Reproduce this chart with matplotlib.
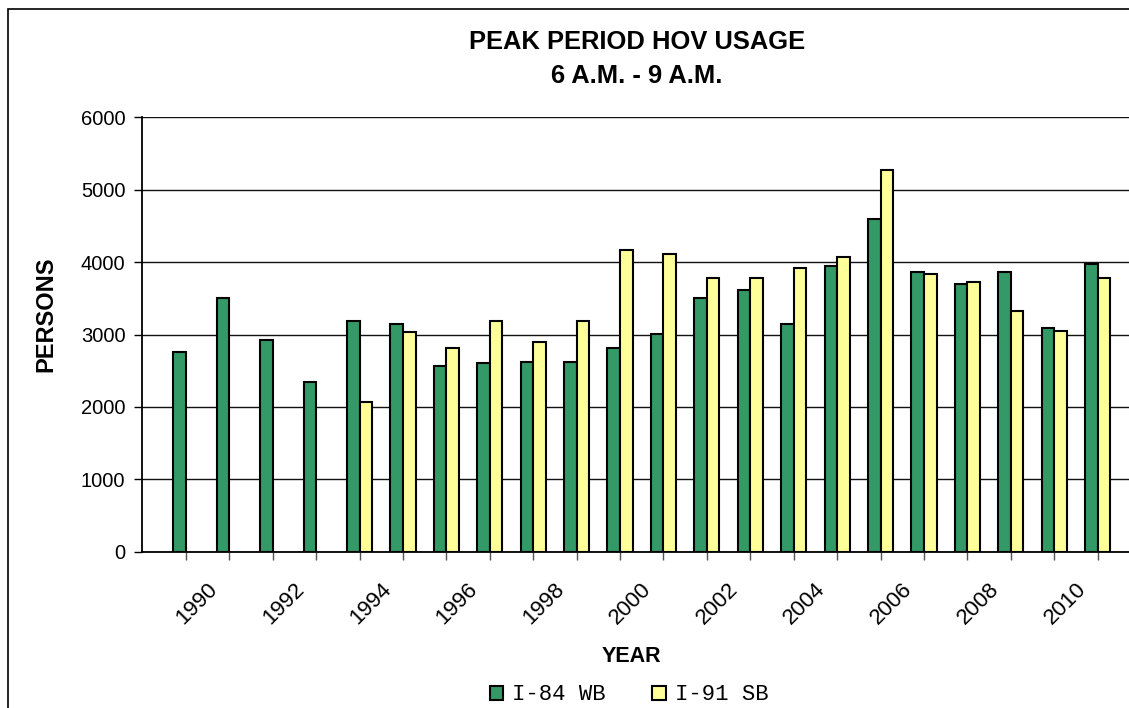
import matplotlib
matplotlib.use("Agg")
import matplotlib.pyplot as plt
from matplotlib.patches import Patch, Rectangle
import matplotlib.transforms as mtransforms
import numpy as np

years = list(range(1989, 2011))
i84_wb = [2760, 3510, 2930, 2350, 3180, 3150, 2570, 2600, 2620, 2620, 2820,
          3010, 3510, 3620, 3150, 3950, 4590, 3870, 3700, 3870, 3095, 3980]
i91_sb = [0, 0, 0, 0, 2070, 3040, 2820, 3180, 2900, 3180, 4170,
          4115, 3785, 3785, 3920, 4065, 5275, 3840, 3730, 3320, 3045, 3785]
tick_labels = [str(y) if y % 2 == 0 else "" for y in years]

W, H = 1129, 708
fig = plt.figure(figsize=(W / 100, H / 100), dpi=100)
fig.patch.set_facecolor("white")

# outer chart border (cropped on right and bottom)
fig.add_artist(Rectangle((8 / W, -0.1), 1.2, 1 - 9.5 / H + 0.1, transform=fig.transFigure,
                         fill=False, edgecolor="black", linewidth=1.2))

left, right = 142 / W, 1.0
bottom, top = 1 - 551.7 / H, 1 - 117.3 / H
ax = fig.add_axes([left, bottom, right - left, top - bottom])

x = np.arange(len(years))
bw = 0.29
green = "#339966"
yellow = "#FFFF99"
ax.bar(x - bw / 2, i84_wb, width=bw, color=green, edgecolor="black", linewidth=1.5, zorder=3)
mask = np.array(i91_sb) > 0
ax.bar(x[mask] + bw / 2, np.array(i91_sb)[mask], width=bw, color=yellow,
       edgecolor="black", linewidth=1.5, zorder=3)

ax.set_ylim(0, 6000)
ax.set_yticks(range(0, 6001, 1000))
ax.set_xlim(-1.01, (W - 186) / 43.41)
ax.set_xticks(x)
ax.set_xticklabels(tick_labels)

ax.yaxis.grid(True, color="#111111", linewidth=1.0, zorder=0)
ax.set_axisbelow(True)
for s in ["top", "right"]:
    ax.spines[s].set_visible(False)
ax.spines["left"].set_linewidth(1.3)
ax.spines["bottom"].set_linewidth(1.3)
ax.tick_params(axis="y", direction="out", length=6, width=1, pad=6, labelsize=14.5)
ax.tick_params(axis="x", direction="out", length=6, width=1, pad=19, color="#555555",
               labelsize=16)

offset = mtransforms.ScaledTranslation(-0.15, 0, fig.dpi_scale_trans)
for lab in ax.get_xticklabels():
    lab.set_rotation(45)
    lab.set_ha("right")
    lab.set_va("center")
    lab.set_rotation_mode("anchor")
    lab.set_family("Liberation Sans")
    lab.set_transform(lab.get_transform() + offset)
for lab in ax.get_yticklabels():
    lab.set_family("Liberation Sans")

fig.text(637 / W, 1 - 42 / H, "PEAK PERIOD HOV USAGE", ha="center", va="center",
         fontsize=18.4, fontweight="bold", family="Liberation Sans")
fig.text(637 / W, 1 - 76 / H, "6 A.M. - 9 A.M.", ha="center", va="center",
         fontsize=18.4, fontweight="bold", family="Liberation Sans")
fig.text(46 / W, 1 - 314 / H, "PERSONS", ha="center", va="center", rotation=90,
         fontsize=17, fontweight="bold", family="Liberation Sans")
fig.text(631 / W, 1 - 657 / H, "YEAR", ha="center", va="center",
         fontsize=15.5, fontweight="bold", family="Liberation Sans")

handles = [Patch(facecolor=green, edgecolor="black", linewidth=1.5),
           Patch(facecolor=yellow, edgecolor="black", linewidth=1.5)]
fig.legend(handles, ["I-84 WB", "I-91 SB"], loc="center", bbox_to_anchor=(629 / W, 1 - 695 / H),
           ncol=2, frameon=False, prop={"family": "Liberation Mono", "size": 16},
           handlelength=0.6, handleheight=0.6, handletextpad=0.4, columnspacing=2.1,
           borderpad=0, borderaxespad=0)

fig.savefig("out.png", dpi=100, facecolor="white")
